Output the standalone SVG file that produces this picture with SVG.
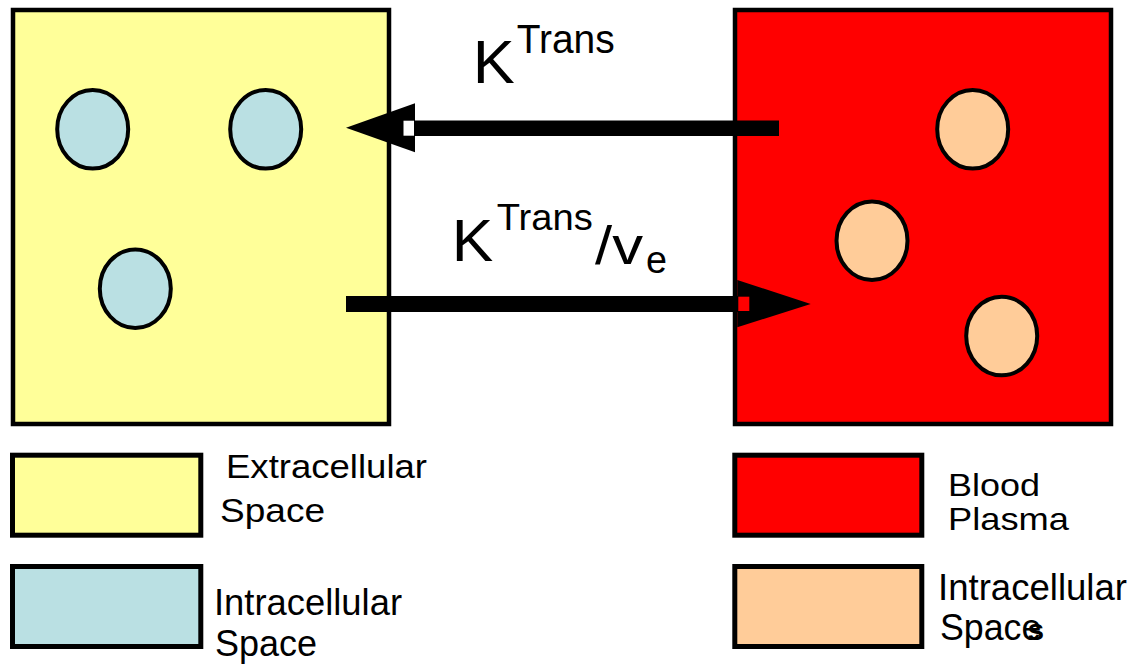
<svg xmlns="http://www.w3.org/2000/svg" width="1135" height="667" viewBox="0 0 1135 667">
<style>
.box{stroke:#000;stroke-width:4.5}
.cell{stroke:#000;stroke-width:4}
.leg{stroke:#000;stroke-width:5}
.t{font-family:"Liberation Sans",Arial,sans-serif;fill:#000}
.y{fill:#FFFF99}.b{fill:#BAE0E3}.r{fill:#FF0000}.p{fill:#FFCC99}
</style>
<rect width="1135" height="667" fill="#fff"/>
<g id="extracellular-box">
<rect class="box y" x="13" y="10" width="376" height="414"/>
<ellipse class="cell b" cx="92.7" cy="129.3" rx="35.5" ry="39.3"/>
<ellipse class="cell b" cx="265.7" cy="129.3" rx="35.5" ry="39.3"/>
<ellipse class="cell b" cx="135.3" cy="288.7" rx="35.5" ry="39.3"/>
</g>
<g id="plasma-box">
<rect class="box r" x="735" y="10" width="376" height="414"/>
<ellipse class="cell p" cx="972.7" cy="129.3" rx="35.5" ry="39.3"/>
<ellipse class="cell p" cx="872" cy="240.7" rx="35.5" ry="39.3"/>
<ellipse class="cell p" cx="1001.7" cy="336" rx="35.5" ry="39.3"/>
</g>
<g id="connectors">
<g id="arrow-ktrans">
<rect x="414" y="120.5" width="365" height="15.5" fill="#000"/>
<polygon points="346,127.8 415,103.3 415,152.3" fill="#000"/>
<rect x="403.5" y="120.7" width="10.5" height="15" fill="#fff"/>
</g>
<g id="arrow-ktrans-ve">
<rect x="346" y="296" width="392" height="16" fill="#000"/>
<polygon points="810.7,304 737.3,280 737.3,327.3" fill="#000"/>
<rect x="738.3" y="296.7" width="11" height="14.3" fill="#FF0000"/>
</g>
</g>
<g id="label-ktrans">
<text class="t" x="472.7" y="82.7" font-size="62" textLength="42" lengthAdjust="spacingAndGlyphs">K</text>
<text class="t" x="516.7" y="52.7" font-size="40" textLength="98" lengthAdjust="spacingAndGlyphs">Trans</text>
</g>
<g id="label-ktrans-ve">
<text class="t" x="451.7" y="261" font-size="60" textLength="41.5" lengthAdjust="spacingAndGlyphs">K</text>
<text class="t" x="496.7" y="230" font-size="36" textLength="96" lengthAdjust="spacingAndGlyphs">Trans</text>
<text class="t" x="595" y="264" font-size="54" textLength="48" lengthAdjust="spacingAndGlyphs">/v</text>
<text class="t" x="646" y="273" font-size="39" textLength="21" lengthAdjust="spacingAndGlyphs">e</text>
</g>
<g id="legend-extracellular">
<rect class="leg y" x="12.5" y="455.2" width="188.3" height="80"/>
<text class="t" x="226" y="478" font-size="33" textLength="201" lengthAdjust="spacingAndGlyphs">Extracellular</text>
<text class="t" x="220" y="522" font-size="33" textLength="105" lengthAdjust="spacingAndGlyphs">Space</text>
</g>
<g id="legend-intracellular-left">
<rect class="leg b" x="12.5" y="566.5" width="188.3" height="80"/>
<text class="t" x="214" y="615" font-size="36" textLength="188" lengthAdjust="spacingAndGlyphs">Intracellular</text>
<text class="t" x="215" y="656" font-size="36" textLength="102" lengthAdjust="spacingAndGlyphs">Space</text>
</g>
<g id="legend-plasma">
<rect class="leg r" x="734.8" y="455.2" width="187" height="80"/>
<text class="t" x="948" y="496" font-size="32" textLength="92" lengthAdjust="spacingAndGlyphs">Blood</text>
<text class="t" x="948" y="530" font-size="32" textLength="121" lengthAdjust="spacingAndGlyphs">Plasma</text>
</g>
<g id="legend-intracellular-right">
<rect class="leg p" x="734.8" y="566.5" width="187" height="80"/>
<text class="t" x="938" y="600" font-size="36" textLength="189" lengthAdjust="spacingAndGlyphs">Intracellular</text>
<text class="t" x="940" y="640" font-size="36" textLength="104" lengthAdjust="spacingAndGlyphs">Space<tspan dx="-14" font-size="30" font-weight="bold">s</tspan></text>
</g>
</svg>
